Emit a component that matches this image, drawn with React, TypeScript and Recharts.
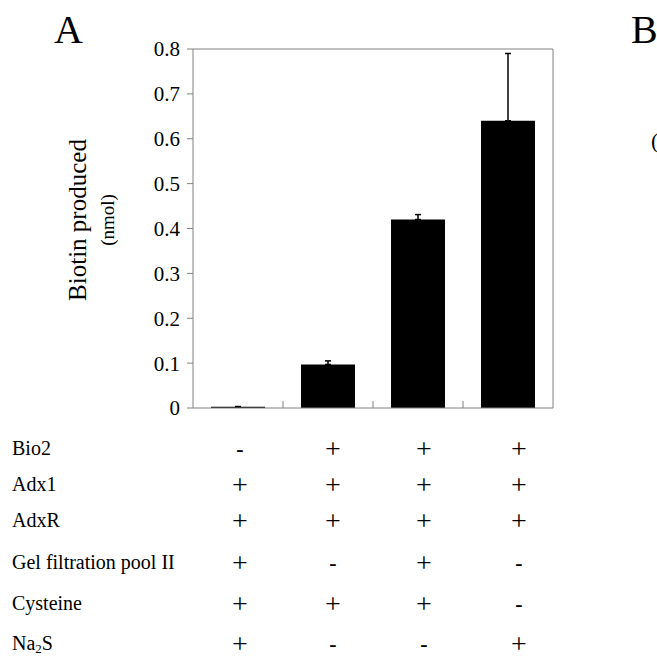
import React from 'react';
import { BarChart, Bar, XAxis, YAxis, ErrorBar, ReferenceLine } from 'recharts';

// lanes of panel A
const lanes = ['1', '2', '3', '4'];
const biotinProduced = [0.003, 0.097, 0.42, 0.64];
const biotinError = [0, 0.008, 0.011, 0.15];
const yTicks = [0, 0.1, 0.2, 0.3, 0.4, 0.5, 0.6, 0.7, 0.8];

// assay composition table under the bars
const components = ['Bio2', 'Adx1', 'AdxR', 'Gel filtration pool II', 'Cysteine', 'Na2S'];
const bio2 = ['-', '+', '+', '+'];
const adx1 = ['+', '+', '+', '+'];
const adxR = ['+', '+', '+', '+'];
const gelPool = ['+', '-', '+', '-'];
const cysteine = ['+', '+', '+', '-'];
const na2s = ['+', '-', '-', '+'];
const composition = [bio2, adx1, adxR, gelPool, cysteine, na2s];

const chartData = lanes.map((lane, i) => ({
    lane,
    biotin: biotinProduced[i],
    err: [0, biotinError[i]]
}));

// layout
const SERIF = '"Liberation Serif", "Times New Roman", serif';
const AXIS = '#808080';
const rowY = [448, 484, 520, 562, 603, 643];
const colShift = [2, 5, 6, 11];
const HALF_BAND = 45;

const CompositionTick = (props: any) => {
    const { x, y, index } = props;
    return (
        <g>
            {/* small separator tick between lanes, pointing into the plot */}
            {index > 0 && (
                <line x1={x - HALF_BAND} x2={x - HALF_BAND} y1={y} y2={y - 7} stroke={AXIS} />
            )}
            {composition.map((row, r) => {
                const minus = row[index] === '-';
                return (
                    <text
                        key={r}
                        x={x + colShift[index]}
                        y={rowY[r]}
                        textAnchor="middle"
                        dominantBaseline="central"
                        fontFamily={SERIF}
                        fontSize={minus ? 22 : 28}
                        fontWeight={minus ? 'bold' : 'normal'}
                        fill="#000"
                    >
                        {row[index]}
                    </text>
                );
            })}
        </g>
    );
};

const RowLabels = () => (
    <g>
        {components.map((name, r) => (
            <text
                key={name}
                x={12}
                y={rowY[r]}
                dominantBaseline="central"
                fontFamily={SERIF}
                fontSize={20}
                fill="#000"
            >
                {name === 'Na2S' ? (
                    <>
                        <tspan>Na</tspan>
                        <tspan fontSize={13} dy={5}>2</tspan>
                        <tspan dy={-5}>S</tspan>
                    </>
                ) : name}
            </text>
        ))}
    </g>
);

const YLabel = () => (
    <g fontFamily={SERIF} fill="#000">
        <text x={86} y={220} transform="rotate(-90, 86, 220)" textAnchor="middle" fontSize={25}>
            Biotin produced
        </text>
        <text x={114} y={220} transform="rotate(-90, 114, 220)" textAnchor="middle" fontSize={19}>
            (nmol)
        </text>
    </g>
);

export default function App() {
    return (
        <div style={{ position: 'absolute', left: 0, top: 0, width: 657, height: 657, background: '#fff' }}>
            <BarChart
                width={657}
                height={657}
                data={chartData}
                margin={{ top: 49, right: 104, left: 0, bottom: 0 }}
                barCategoryGap="20%"
            >
                <XAxis
                    dataKey="lane"
                    height={249}
                    axisLine={{ stroke: AXIS }}
                    tickLine={false}
                    tickSize={0}
                    tickMargin={0}
                    tick={<CompositionTick />}
                    interval={0}
                    label={{ content: () => <RowLabels /> }}
                />
                <YAxis
                    width={193}
                    domain={[0, 0.8]}
                    ticks={yTicks}
                    interval={0}
                    axisLine={{ stroke: AXIS }}
                    tickLine={{ stroke: AXIS }}
                    tickSize={6}
                    tickMargin={7}
                    tickFormatter={(v: number) => (v === 0 ? '0' : v.toFixed(1))}
                    tick={{ fontFamily: SERIF, fontSize: 21, fill: '#000' }}
                    label={{ content: () => <YLabel /> }}
                />
                {/* plot frame: top and right edges */}
                <ReferenceLine y={0.8} stroke={AXIS} />
                <ReferenceLine x="4" position="end" stroke={AXIS} />
                <Bar dataKey="biotin" fill="#000" isAnimationActive={false}>
                    <ErrorBar dataKey="err" width={3} stroke="#000" strokeWidth={1.5} />
                </Bar>
            </BarChart>
            <svg
                width={657}
                height={657}
                style={{ position: 'absolute', left: 0, top: 0, pointerEvents: 'none' }}
            >
                <g fontFamily={SERIF} fill="#000">
                    <text x={54} y={43} fontSize={40}>A</text>
                    <text x={631} y={43} fontSize={40}>B</text>
                    <text x={651} y={148} fontSize={22}>(</text>
                </g>
            </svg>
        </div>
    );
}
